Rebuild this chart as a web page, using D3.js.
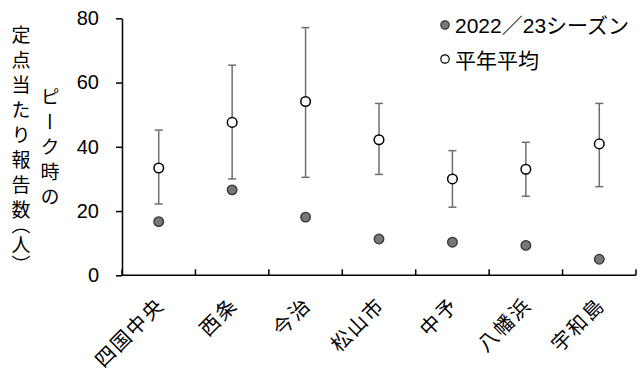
<!DOCTYPE html>
<html>
<head>
<meta charset="utf-8">
<script src="https://cdn.jsdelivr.net/npm/d3@7"></script>
<style>
  html, body { margin: 0; padding: 0; background: #fff; }
  svg { display: block; }
  text { font-family: "Liberation Sans", Arial, "Noto Sans CJK JP", sans-serif; fill: #000; }
  .jp { font-family: "Noto Sans CJK JP", sans-serif; }
  .half { font-feature-settings: "vhal" 1; letter-spacing: 1px; }
</style>
</head>
<body>
<svg id="chart" width="644" height="372"></svg>
<script>
// Regions (保健所管内) and peak reports per sentinel site
const regions = ["四国中央", "西条", "今治", "松山市", "中予", "八幡浜", "宇和島"];
const season2022 = [16.7, 26.6, 18.1, 11.3, 10.3, 9.3, 5.0];
const normalMean = [33.4, 47.6, 54.1, 42.2, 30.0, 33.0, 40.9];
const normalLow  = [22.2, 30.0, 30.5, 31.4, 21.2, 24.6, 27.6];
const normalHigh = [45.2, 65.4, 77.1, 53.5, 38.8, 41.4, 53.5];
const yTicks = [0, 20, 40, 60, 80];

const svg = d3.select("#chart");
const plotLeft = 122, plotRight = 636, plotTop = 18.3, plotBottom = 275.3;

const x = d3.scaleBand().domain(regions).range([plotLeft, plotRight]).padding(0);
const y = d3.scaleLinear().domain([0, 80]).range([plotBottom, plotTop]);
const cx = r => x(r) + x.bandwidth() / 2;

// Y axis
const yAxis = svg.append("g")
  .attr("transform", `translate(${plotLeft},0)`)
  .call(d3.axisLeft(y).tickValues(yTicks).tickSize(6).tickPadding(17).tickSizeOuter(0));
yAxis.select(".domain").attr("stroke", "#000").attr("stroke-width", 1.5);
yAxis.selectAll(".tick line").attr("stroke", "#000").attr("stroke-width", 1.5);
yAxis.selectAll(".tick text").attr("font-size", 20).attr("fill", "#000")
  .attr("font-family", "'Liberation Sans', Arial, sans-serif");

// X axis: inward ticks at band boundaries
const xg = svg.append("g");
xg.append("line")
  .attr("x1", plotLeft).attr("x2", plotRight)
  .attr("y1", plotBottom).attr("y2", plotBottom)
  .attr("stroke", "#000").attr("stroke-width", 1.5);
const edges = regions.map(r => x(r)).concat([plotRight]);
xg.selectAll("line.tk").data(edges).enter().append("line")
  .attr("class", "tk")
  .attr("x1", d => d).attr("x2", d => d)
  .attr("y1", plotBottom).attr("y2", plotBottom - 6)
  .attr("stroke", "#000").attr("stroke-width", 1.5);
xg.selectAll("text").data(regions).enter().append("text")
  .attr("class", "jp")
  .attr("transform", d => `translate(${cx(d) + 1},${plotBottom + 25}) rotate(-45)`)
  .attr("text-anchor", "end")
  .attr("dominant-baseline", "central")
  .attr("font-size", 20)
  .style("letter-spacing", "2px")
  .text(d => d);

// Error bars for the normal-year range
const eb = svg.append("g").attr("stroke", "#6e6e6e").attr("stroke-width", 1.5);
regions.forEach((r, i) => {
  const c = cx(r);
  eb.append("line").attr("x1", c).attr("x2", c)
    .attr("y1", y(normalHigh[i])).attr("y2", y(normalLow[i]));
  [normalHigh[i], normalLow[i]].forEach(v => {
    eb.append("line").attr("x1", c - 4).attr("x2", c + 4)
      .attr("y1", y(v)).attr("y2", y(v));
  });
});

// Normal-year mean: open circles
svg.append("g").selectAll("circle").data(regions).enter().append("circle")
  .attr("cx", d => cx(d))
  .attr("cy", (d, i) => y(normalMean[i]))
  .attr("r", 4.8)
  .attr("fill", "#fff").attr("stroke", "#000").attr("stroke-width", 1.5);

// 2022/23 season: filled circles
svg.append("g").selectAll("circle").data(regions).enter().append("circle")
  .attr("cx", d => cx(d))
  .attr("cy", (d, i) => y(season2022[i]))
  .attr("r", 4.8)
  .attr("fill", "#777").attr("stroke", "#333").attr("stroke-width", 1.3);

// Legend
const lg = svg.append("g");
lg.append("circle").attr("cx", 445).attr("cy", 25).attr("r", 4.2)
  .attr("fill", "#777").attr("stroke", "#333").attr("stroke-width", 1.2);
lg.append("text").attr("x", 455).attr("y", 25).attr("dominant-baseline", "central")
  .attr("font-size", 21).text("2022／23シーズン");
lg.append("circle").attr("cx", 445).attr("cy", 59).attr("r", 4.2)
  .attr("fill", "#fff").attr("stroke", "#000").attr("stroke-width", 1.2);
lg.append("text").attr("class", "jp").attr("x", 455).attr("y", 59).attr("dominant-baseline", "central")
  .attr("font-size", 21).text("平年平均");

// Vertical axis title (two columns), brackets set half-height
const t1 = svg.append("text").attr("class", "jp")
  .attr("x", 21).attr("y", 25)
  .attr("font-size", 19)
  .style("writing-mode", "vertical-rl")
  .style("letter-spacing", "6px");
t1.append("tspan").text("定点当たり報告数");
t1.append("tspan").attr("class", "half").text("（人）");
svg.append("text").attr("class", "jp")
  .attr("x", 50).attr("y", 87)
  .attr("font-size", 19)
  .style("writing-mode", "vertical-rl")
  .style("letter-spacing", "6px")
  .text("ピーク時の");
</script>
</body>
</html>
